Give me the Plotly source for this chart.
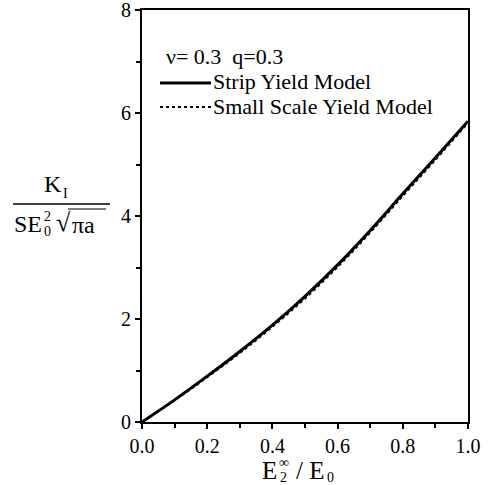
import plotly.graph_objects as go

# ---- data ----
x_ratio = [0.0, 0.1, 0.2, 0.3, 0.4, 0.5, 0.6, 0.7, 0.8, 0.9, 1.0]
strip_yield = [0.0, 0.43, 0.89, 1.37, 1.88, 2.44, 3.05, 3.72, 4.43, 5.13, 5.84]
small_scale = [0.0, 0.42, 0.87, 1.34, 1.85, 2.40, 3.01, 3.68, 4.39, 5.09, 5.81]
x_ticks = [0.0, 0.2, 0.4, 0.6, 0.8, 1.0]
y_ticks = [0, 2, 4, 6, 8]
legend_labels = ["Strip Yield Model", "Small Scale Yield Model"]
param_text = "ν= 0.3  q=0.3"

W, H = 488, 485
L, R, T, B = 142, 20, 10, 63
PW, PH = W - L - R, H - T - B
FONT = "Liberation Serif"


def px(xp):
    return (xp - L) / PW


def py(yp):
    return (H - B - yp) / PH


fig = go.Figure()
fig.add_trace(go.Scatter(x=x_ratio, y=small_scale, mode="lines",
                         line=dict(color="black", width=2, dash="dot", shape="spline"),
                         showlegend=False))
fig.add_trace(go.Scatter(x=x_ratio, y=strip_yield, mode="lines",
                         line=dict(color="black", width=3, shape="spline"),
                         showlegend=False))

axis_common = dict(showgrid=False, zeroline=False, showline=True, linecolor="black",
                   linewidth=2, mirror=True, ticks="outside", ticklen=5, tickwidth=1.5,
                   tickcolor="black", automargin=False, ticklabeloverflow="allow",
                   tickfont=dict(family=FONT, size=20, color="black"))

fig.update_xaxes(range=[0, 1], tickvals=x_ticks, tickformat=".1f",
                 minor=dict(dtick=0.1, ticks="outside", ticklen=4, tickcolor="black"),
                 **axis_common)
fig.update_yaxes(range=[0, 8], tickvals=y_ticks,
                 minor=dict(dtick=1, ticks="outside", ticklen=4, tickcolor="black"),
                 **axis_common)

ann = []
shapes = []


def text(xp, yp, s, size, xanchor="left"):
    ann.append(dict(x=px(xp), y=py(yp), xref="paper", yref="paper", text=s,
                    showarrow=False, xanchor=xanchor, yanchor="middle",
                    font=dict(family=FONT, size=size, color="black")))


# legend
text(164, 57, param_text, 22)
text(211, 81, legend_labels[0], 22)
text(211, 106, legend_labels[1], 22)
shapes.append(dict(type="line", xref="paper", yref="paper", x0=px(160), x1=px(211),
                   y0=py(83), y1=py(83), line=dict(color="black", width=3)))
shapes.append(dict(type="line", xref="paper", yref="paper", x0=px(160), x1=px(211),
                   y0=py(107), y1=py(107), line=dict(color="black", width=2, dash="dot")))

# x-axis title: E2^inf / E0
text(260, 470, "E", 25)
text(277, 462, "∞", 14)
text(278, 477, "2", 14)
text(294, 470, "/ E", 25)
text(325, 477, "0", 14)

# y-axis title: K_I / (S E0^2 sqrt(pi a))
text(42, 184, "K", 24)
text(61, 193, "I", 14)
shapes.append(dict(type="line", xref="paper", yref="paper", x0=px(13), x1=px(110),
                   y0=py(204), y1=py(204), line=dict(color="black", width=1.5)))
text(12, 224, "SE", 24)
text(42, 216, "2", 14)
text(42, 231, "0", 14)
text(54, 222, "√", 26)
text(70, 225, "πa", 24)
shapes.append(dict(type="line", xref="paper", yref="paper", x0=px(68), x1=px(106),
                   y0=py(209), y1=py(209), line=dict(color="black", width=1.2)))

fig.update_layout(width=W, height=H, margin=dict(l=L, r=R, t=T, b=B, autoexpand=False),
                  plot_bgcolor="white", paper_bgcolor="white",
                  annotations=ann, shapes=shapes)

fig.write_html("out.html", config={"displayModeBar": False},
               post_script="document.body.style.margin='0';document.body.style.padding='0';")
